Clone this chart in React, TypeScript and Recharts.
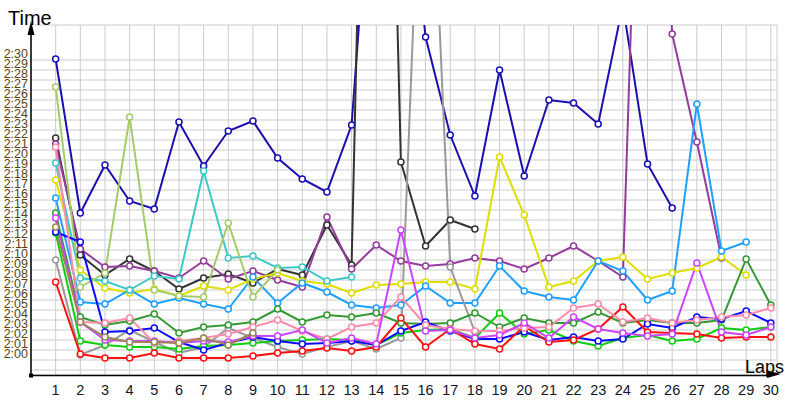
import React from 'react';
import { LineChart, Line, XAxis, YAxis, CartesianGrid } from 'recharts';

// lap times in seconds (2:00 = 120)
const LAPS = [1, 2, 3, 4, 5, 6, 7, 8, 9, 10, 11, 12, 13, 14, 15, 16, 17, 18, 19, 20, 21, 22, 23, 24, 25, 26, 27, 28, 29, 30];
const TIME_TICKS = [119, 120, 121, 122, 123, 124, 125, 126, 127, 128, 129, 130, 131, 132, 133, 134, 135, 136, 137, 138, 139, 140, 141, 142, 143, 144, 145, 146, 147, 148, 149, 150];

const navy = [150.1, 134.7, 139.5, 135.9, 135.1, 143.8, 139.4, 142.9, 143.9, 140.2, 138.1, 136.8, 143.5, 177, 175, 152.3, 142.5, 136.4, 149.0, 138.4, 146.0, 145.7, 143.6, 155.5, 139.6, 135.2, null, null, null, null];
const black = [142.2, 130.5, 128.5, 130.1, 128.9, 127.1, 128.2, 128.6, 127.7, 129.1, 128.5, 133.5, 129.5, 238, 139.8, 131.4, 134.0, 133.1, null, null, null, null, null, null, null, null, null, null, null, null];
const purple = [141.6, 131.1, 129.3, 129.4, 128.9, 128.2, 129.9, 128.1, 128.9, 128.0, 127.3, 134.3, 129.1, 131.5, 129.9, 129.4, 129.6, 130.2, 129.9, 129.1, 130.2, 131.4, 129.9, 128.3, 205, 152.6, 141.8, 130.2, null, null];
const yellow = [138.0, 129.0, 127.2, 126.7, 127.1, 126.4, 127.4, 127.0, 128.1, 128.7, 127.9, 127.6, 126.7, 127.5, 127.6, 127.8, 127.8, 127.1, 140.3, 134.5, 127.3, 127.9, 129.9, 130.3, 128.1, 128.7, 129.2, 130.3, 128.5, null];
const lightBlue = [136.2, 125.8, 125.6, 127.0, 125.6, 126.2, 125.6, 125.1, 128.3, 125.7, 127.7, 126.8, 125.5, 125.2, 125.5, 127.4, 125.7, 125.7, 129.4, 126.9, 126.3, 126.0, 129.9, 128.9, 126.0, 126.9, 145.6, 130.9, 131.8, null];
const cyan = [139.7, 128.2, 127.9, 127.0, 128.4, 128.1, 138.9, 130.2, 130.4, 129.2, 129.3, 127.9, 128.3, null, null, null, null, null, null, null, null, null, null, null, null, null, null, null, null, null];
const lightGreen = [147.3, 127.3, 128.7, 144.3, 127.0, 126.4, 126.3, 133.7, 126.3, 129.0, null, null, null, null, null, null, null, null, null, null, null, null, null, null, null, null, null, null, null, null];
const gray = [130.0, 120.5, 121.5, 123.0, 121.8, 120.7, 121.3, 123.2, 122.2, 121.3, 120.6, 121.3, 121.9, 121.1, 122.2, 185, 129.3, 122.8, null, null, null, null, null, null, null, null, null, null, null, null];
const darkGreen = [134.7, 124.3, 123.5, 123.9, 124.6, 122.7, 123.3, 123.5, 123.8, 125.1, 123.8, 124.5, 124.3, 124.7, 123.7, 123.6, 123.7, 124.7, 123.3, 124.2, 123.7, 123.7, 124.8, 123.7, 124.0, 123.7, 123.7, 124.0, 130.1, 125.5];
const green = [132.7, 121.9, 121.5, 121.3, 121.3, 121.1, 121.4, 121.5, 121.7, 121.9, 122.0, 122.1, 122.0, 121.5, 122.7, 123.0, 123.1, 122.2, 124.7, 122.6, 123.0, 121.9, 121.4, 122.2, 122.5, 121.9, 122.1, 123.2, 123.0, 123.3];
const blue = [132.8, 131.8, 122.8, 122.9, 123.2, 121.8, 121.0, 121.7, 122.3, 121.9, 121.6, 121.7, 121.9, 121.5, 122.9, 123.8, 122.9, 122.1, 122.1, 122.8, 122.0, 122.3, 121.9, 122.1, 123.6, 123.2, 124.3, 124.1, 124.9, 123.7];
const red = [127.8, 120.6, 120.2, 120.2, 120.7, 120.2, 120.2, 120.2, 120.4, 120.7, 120.9, 121.2, 120.9, 121.3, 124.2, 121.3, 123.1, 121.6, 121.1, 123.4, 121.8, 122.0, 123.1, 125.3, 122.8, 122.7, 122.6, 122.2, 122.3, 122.3];
const pink = [141.3, 123.8, 123.7, 124.2, 121.7, 121.9, 122.2, 122.6, 123.3, 124.0, 122.9, 122.1, 123.3, 123.7, 126.3, 123.5, 123.1, 122.9, 122.9, 123.2, 123.3, 125.2, 125.6, 123.8, 124.2, 123.7, 124.0, 124.3, 124.5, 125.2];
const violet = [134.2, 123.8, 122.0, 121.9, 121.9, 121.7, 121.9, 121.8, 122.4, 122.4, 123.0, 121.7, 122.2, 121.6, 133.0, 122.9, 123.0, 122.2, 122.5, 123.7, 122.2, 124.3, 123.1, 122.7, 122.4, 122.6, 129.7, 122.8, 122.5, 123.3];
const olive = [133.3, 123.8, 122.3, 121.8, 121.8, 121.7, 122.2, 121.5, 122.7, null, null, null, null, null, null, null, null, null, null, null, null, null, null, null, null, null, null, null, null, null];

const SERIES = [
  { key: 'navy', values: navy, color: '#1a10b0' },
  { key: 'black', values: black, color: '#333333' },
  { key: 'purple', values: purple, color: '#943c9c' },
  { key: 'yellow', values: yellow, color: '#dede00' },
  { key: 'lightBlue', values: lightBlue, color: '#1ea0ff' },
  { key: 'cyan', values: cyan, color: '#3cc8c8' },
  { key: 'lightGreen', values: lightGreen, color: '#a6cc6a' },
  { key: 'gray', values: gray, color: '#9a9a9a' },
  { key: 'darkGreen', values: darkGreen, color: '#339933' },
  { key: 'green', values: green, color: '#11cc11' },
  { key: 'blue', values: blue, color: '#0a0aff' },
  { key: 'red', values: red, color: '#ff1010' },
  { key: 'pink', values: pink, color: '#ff8aaa' },
  { key: 'violet', values: violet, color: '#cc44ff' },
  { key: 'olive', values: olive, color: '#998855' },
];

const data = LAPS.map((lap, i) => {
  const row: Record<string, number | null> = { lap };
  SERIES.forEach((s) => {
    row[s.key] = s.values[i];
  });
  return row;
});

function fmt(v: number) {
  const m = Math.floor(v / 60);
  const s = v - m * 60;
  return `${m}:${String(s).padStart(2, '0')}`;
}

function TimeTick(props: any) {
  const { y, payload } = props;
  if (payload.value < 120) return <g />;
  return (
    <text x={28} y={y} dy={-2} textAnchor="end" fontSize={12.5} fill="#5a4210" fontFamily="Liberation Sans, Arial, sans-serif">
      {fmt(payload.value)}
    </text>
  );
}

function LapTick(props: any) {
  const { x, payload } = props;
  return (
    <text x={x} y={395} textAnchor="middle" fontSize={14.5} fill="#141428" fontFamily="Liberation Sans, Arial, sans-serif">
      {payload.value}
    </text>
  );
}

export default function App() {
  return (
    <div style={{ position: 'absolute', left: 0, top: 0, width: 800, height: 400, background: '#fff' }}>
      <LineChart width={800} height={400} data={data} margin={{ top: 25, right: 23, left: 0, bottom: 0 }}>
        <CartesianGrid stroke="#cccccc" strokeWidth={1} />
        <XAxis
          dataKey="lap"
          type="number"
          domain={[0, 30.25]}
          ticks={LAPS}
          interval={0}
          allowDataOverflow
          height={25}
          axisLine={false}
          tickLine={false}
          tick={<LapTick />}
        />
        <YAxis
          type="number"
          domain={[118.5, 153.5]}
          ticks={TIME_TICKS}
          interval={0}
          allowDataOverflow
          width={31}
          axisLine={false}
          tickLine={false}
          tick={<TimeTick />}
        />
        {SERIES.map((s) => (
          <Line
            key={s.key}
            dataKey={s.key}
            stroke={s.color}
            strokeWidth={2}
            dot={{ r: 3, fill: '#ffffff', stroke: s.color, strokeWidth: 1.5 }}
            isAnimationActive={false}
          />
        ))}
      </LineChart>
      <svg width={800} height={400} style={{ position: 'absolute', left: 0, top: 0, pointerEvents: 'none' }}>
        <line x1={31} y1={375.5} x2={31} y2={30} stroke="#000" strokeWidth={1.5} />
        <polygon points="31,21 27.5,35 34.5,35" fill="#000" />
        <line x1={31} y1={375.5} x2={770} y2={375.5} stroke="#000" strokeWidth={1.5} />
        <polygon points="781,374 767,370.5 767,378" fill="#000" />
        <rect x={29} y={373.5} width={4} height={4} fill="#000" />
        <text x={8} y={25} fontSize={20} fill="#000" fontFamily="Liberation Sans, Arial, sans-serif">Time</text>
        <text x={745} y={373} fontSize={18} fill="#000" fontFamily="Liberation Sans, Arial, sans-serif">Laps</text>
      </svg>
    </div>
  );
}
